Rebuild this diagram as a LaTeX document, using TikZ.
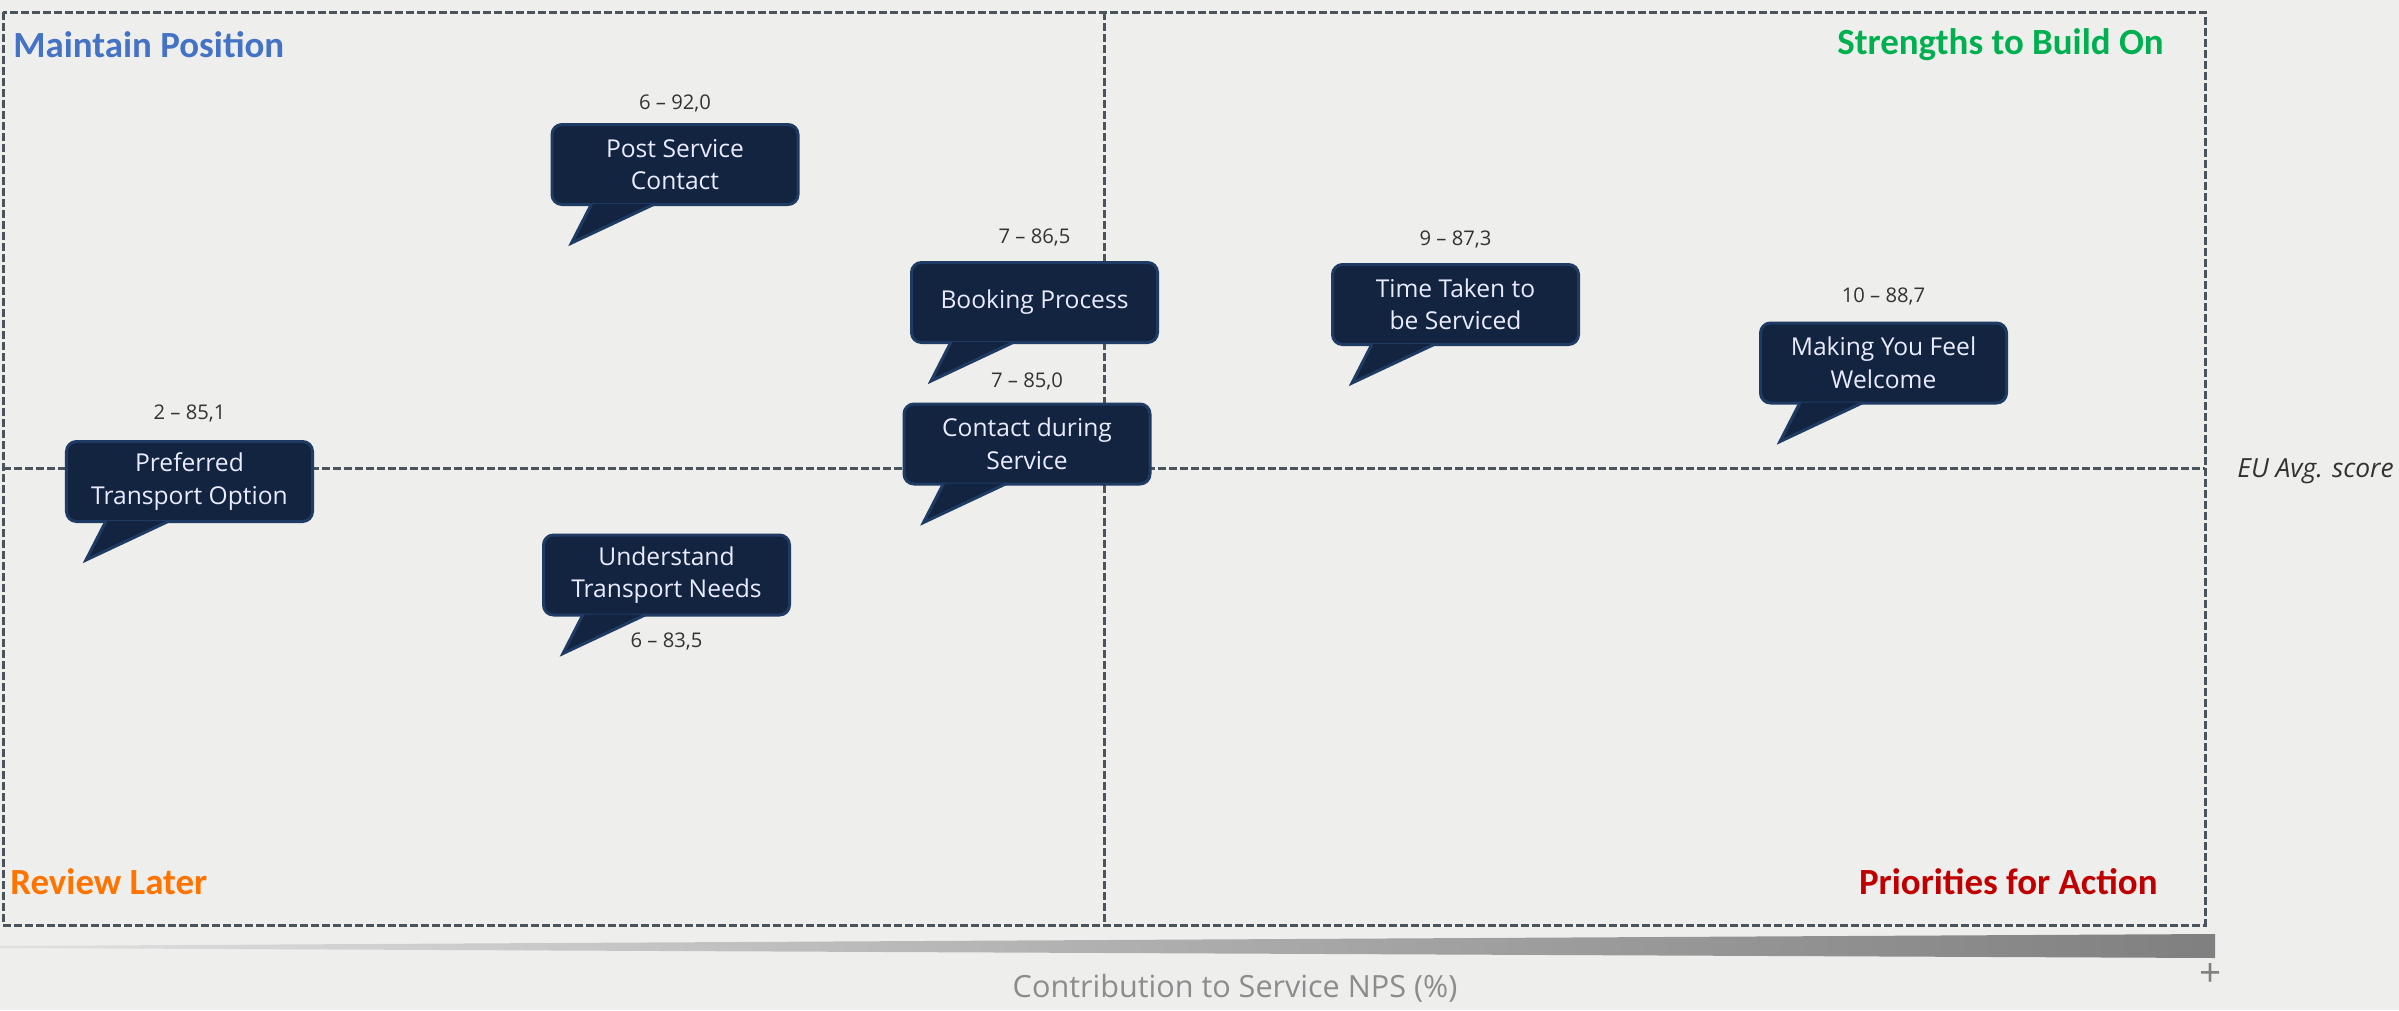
\documentclass[tikz,border=0pt]{standalone}
\usepackage{fontspec}
\setmainfont{Open Sans}
\newfontfamily\titulo{Carlito}
\usetikzlibrary{positioning,calc}

\definecolor{fondo}{HTML}{EEEEEC}
\definecolor{marino}{HTML}{12243F}
\definecolor{bordeg}{HTML}{1F3B63}
\definecolor{guia}{HTML}{4A545C}
\definecolor{azul}{HTML}{4472C4}
\definecolor{verde}{HTML}{00B050}
\definecolor{naranja}{HTML}{FF7300}
\definecolor{rojo}{HTML}{C00000}

\tikzset{
  globo/.style={
    rectangle, rounded corners=2mm, draw=bordeg, fill=marino,
    line width=0.6mm, text=white!92!blue, align=center,
    font=\fontsize{14}{18.5}\selectfont,
    minimum width=49.2mm, minimum height=16mm, inner sep=2pt},
  cola/.style={draw=bordeg, fill=marino, line width=0.6mm, line join=miter},
  valor/.style={font=\fontsize{11.5}{13}\selectfont, text=black!80, inner sep=0pt},
  cuadrante/.style={font=\titulo\bfseries\fontsize{21}{24}\selectfont, inner sep=0pt},
  guia/.style={draw=guia, line width=0.6mm, dash pattern=on 1.5mm off 0.7mm}
}

\begin{document}
\begin{tikzpicture}[x=0.2mm, y=-0.2mm]

\useasboundingbox (0,0) rectangle (2399,1010);
\fill[fondo] (0,0) rectangle (2399,1010);

% marco y ejes
\draw[guia] (3,12) rectangle (2205,925);
\draw[guia] (1104,12) -- (1104,925);
\draw[guia] (3,468) -- (2205,468);

\node[cuadrante, text=azul, anchor=base west] (mant) at (13,57) {Maintain Position};
\node[cuadrante, text=verde, anchor=base east] (fuer) at (2164,54) {Strengths to Build On};
\node[cuadrante, text=naranja, anchor=base west] (revi) at (10,894) {Review Later};
\node[cuadrante, text=rojo, anchor=base east] (prio) at (2158,894) {Priorities for Action};

\node[font=\itshape\fontsize{15}{17}\selectfont, text=black!80, anchor=base west,
      inner sep=0pt] (prom) at (2237,477) {EU Avg. score};

% globos
\node[globo] (post) at (675,164.5)  {Post Service\\Contact};
\node[globo] (book) at (1034.5,302.5) {Booking Process};
\node[globo] (cont) at (1027,444)   {Contact during\\Service};
\node[globo] (time) at (1455.5,304.5) {Time Taken to\\be Serviced};
\node[globo] (welc) at (1883.5,363) {Making You Feel\\Welcome};
\node[globo] (pref) at (189.5,481.5) {Preferred\\Transport Option};
\node[globo] (need) at (666.5,575)  {Understand\\Transport Needs};

\foreach \n in {post,book,cont,time,welc,pref,need}
  \filldraw[cola] ($(\n.south west)+(41,-2)$) -- ($(\n.south west)+(21,37)$)
                  -- ($(\n.south west)+(104,-2)$);

\node[valor, above=2.2mm of post] (vpost) {6 -- 92,0};
\node[valor, above=3.0mm of book] (vbook) {7 -- 86,5};
\node[valor, above=2.4mm of cont] (vcont) {7 -- 85,0};
\node[valor, above=3.0mm of time] (vtime) {9 -- 87,3};
\node[valor, above=3.2mm of welc] (vwelc) {10 -- 88,7};
\node[valor, above=3.6mm of pref] (vpref) {2 -- 85,1};
\node[valor, below=3.2mm of need] (vneed) {6 -- 83,5};

% eje inferior
\shade[left color=black!12, right color=black!50]
  (0,946) -- (2215,934) -- (2215,958) -- (0,948) -- cycle;
\node[font=\fontsize{22}{22}\selectfont, text=black!50, inner sep=0pt] (mas) at (2211,975) {+};
\node[font=\fontsize{17.4}{20}\selectfont, text=black!45, anchor=base] (eje) at (1235,997)
  {Contribution to Service NPS (\%)};

\end{tikzpicture}
\end{document}
